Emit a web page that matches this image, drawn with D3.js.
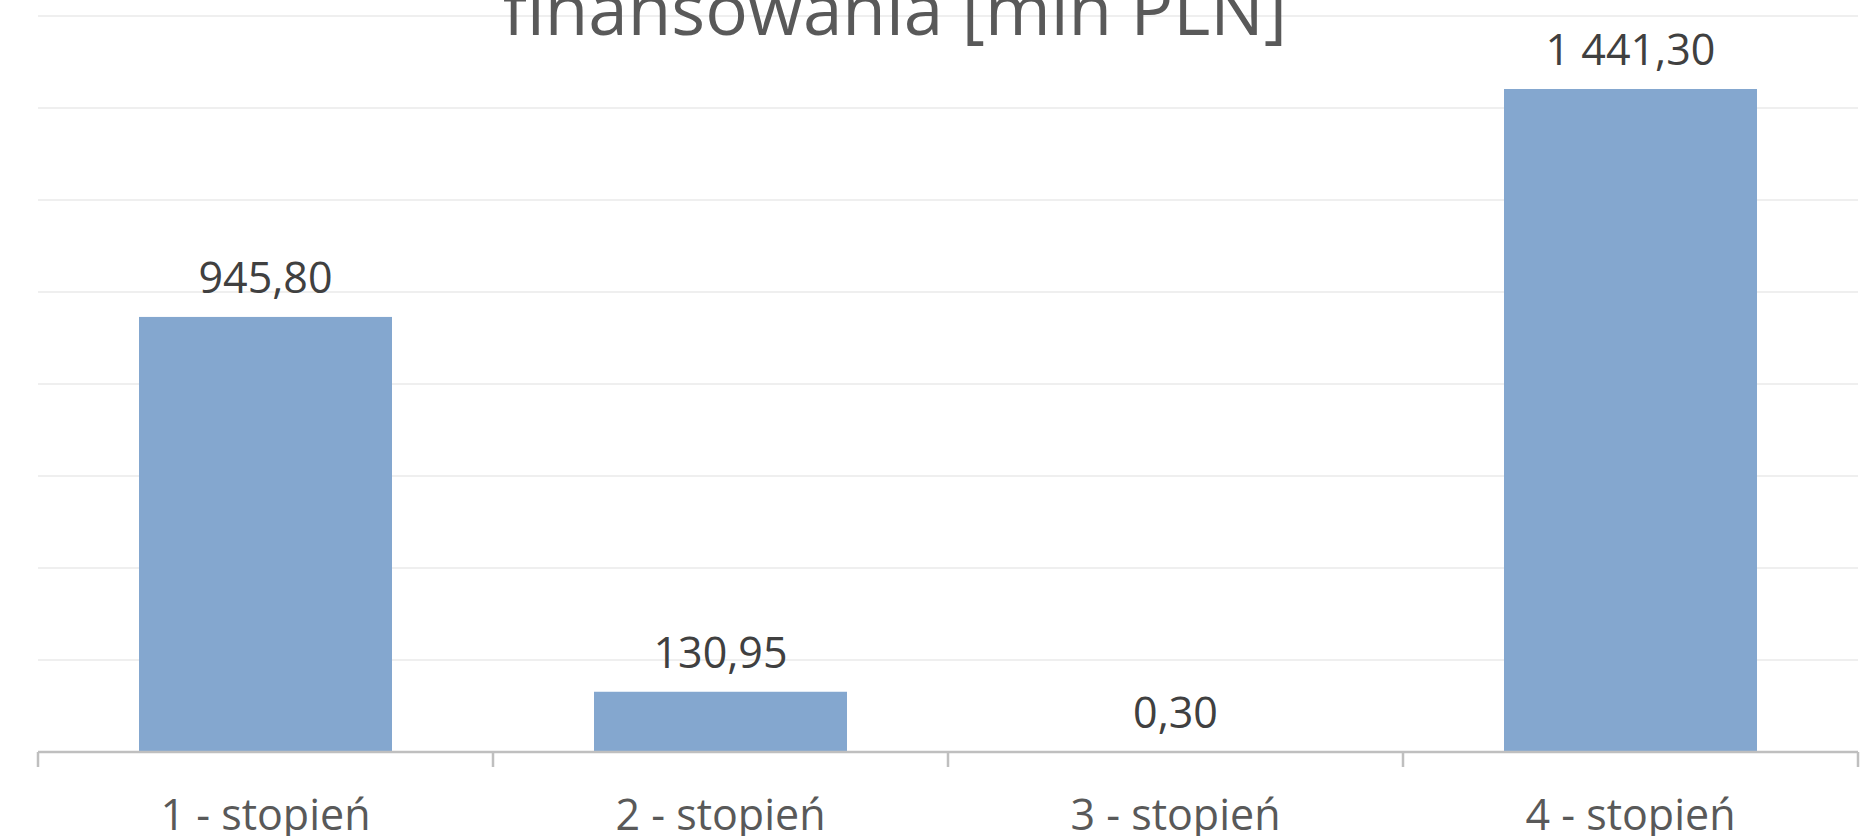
<!DOCTYPE html>
<html>
<head>
<meta charset="utf-8">
<script src="https://cdn.jsdelivr.net/npm/d3@7"></script>
<style>
  body { margin: 0; background: #fff; }
  svg { display: block; font-family: "Open Sans", sans-serif; }
</style>
</head>
<body>
<svg width="1876" height="836"></svg>
<script>
// chart data
var categories = ["1 - stopień", "2 - stopień", "3 - stopień", "4 - stopień"];
var values = [945.80, 130.95, 0.30, 1441.30];
var gridTicks = [0, 200, 400, 600, 800, 1000, 1200, 1400, 1600];
var titleText = "finansowania [mln PLN]";

var svg = d3.select("svg");

// polish number format: space for thousands, comma for decimals
var pl = d3.formatLocale({decimal: ",", thousands: " ", grouping: [3], currency: ["", " zł"]});
var fmt = pl.format(",.2f");

var x = d3.scaleBand()
    .domain(categories)
    .range([38, 1858])
    .paddingInner(0.444)
    .paddingOuter(0.222);

var y = d3.scaleLinear()
    .domain([0, 1600])
    .range([752, 16]);

// gridlines
svg.append("g")
    .selectAll("line")
    .data(gridTicks.slice(1))
    .enter()
    .append("line")
    .attr("x1", 38)
    .attr("x2", 1858)
    .attr("y1", function(d){ return y(d); })
    .attr("y2", function(d){ return y(d); })
    .attr("stroke", "#efefef")
    .attr("stroke-width", 2);

// bars
svg.append("g")
    .selectAll("rect")
    .data(values)
    .enter()
    .append("rect")
    .attr("x", function(d, i){ return x(categories[i]); })
    .attr("width", x.bandwidth())
    .attr("y", function(d){ return y(d); })
    .attr("height", function(d){ return y(0) - y(d); })
    .attr("fill", "#84a7cf");

// x axis, ticks between categories
var xAxis = svg.append("g").attr("transform", "translate(0," + y(0) + ")");
xAxis.append("line")
    .attr("x1", 38).attr("x2", 1858)
    .attr("stroke", "#bfbfbf").attr("stroke-width", 2.5);

var edges = categories.map(function(c){ return x(c) - x.step() * x.paddingInner() / 2; });
edges[0] = 38;
edges.push(1858);
xAxis.selectAll(".tk")
    .data(edges)
    .enter()
    .append("line")
    .attr("class", "tk")
    .attr("x1", function(d){ return d; })
    .attr("x2", function(d){ return d; })
    .attr("y1", 0)
    .attr("y2", 15)
    .attr("stroke", "#bfbfbf")
    .attr("stroke-width", 2.5);

// category labels (bottom is cut off like in the picture)
svg.append("g")
    .selectAll("text")
    .data(categories)
    .enter()
    .append("text")
    .attr("x", function(d){ return x(d) + x.bandwidth() / 2; })
    .attr("y", 830)
    .attr("text-anchor", "middle")
    .attr("font-size", 43)
    .attr("fill", "#595959")
    .text(function(d){ return d; });

// value labels
svg.append("g")
    .selectAll("text")
    .data(values)
    .enter()
    .append("text")
    .attr("x", function(d, i){ return x(categories[i]) + x.bandwidth() / 2; })
    .attr("y", function(d){ return y(d) - 24; })
    .attr("text-anchor", "middle")
    .attr("font-size", 43)
    .attr("fill", "#404040")
    .text(function(d){ return fmt(d); });

// title (top part is cut off in the picture)
svg.append("text")
    .attr("x", 895)
    .attr("y", 35)
    .attr("text-anchor", "middle")
    .attr("font-size", 71)
    .attr("fill", "#595959")
    .text(titleText);
</script>
</body>
</html>
